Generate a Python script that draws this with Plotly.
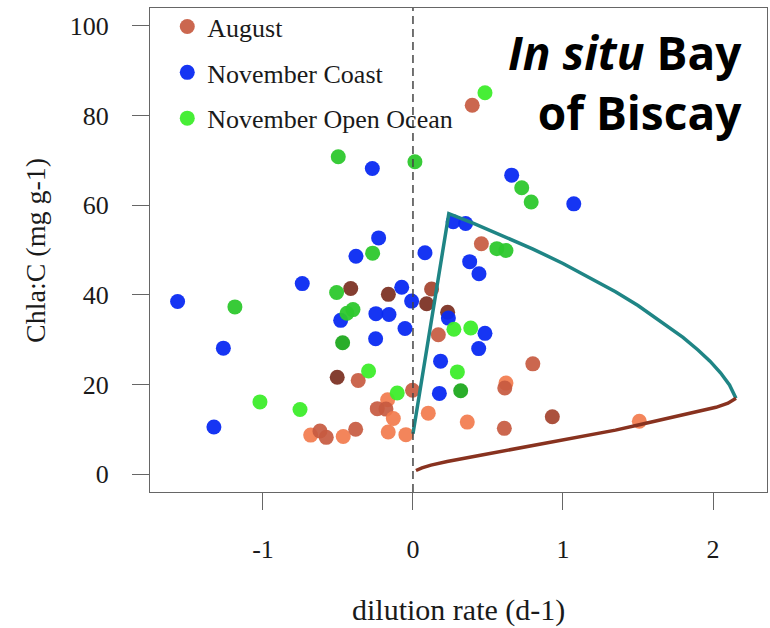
import plotly.graph_objects as go

# ---- observations: dilution rate (d-1) vs Chla:C (mg g-1) ----
aug_x = [0.395, 0.456, -0.415, -0.164, 0.124, 0.091, 0.231, 0.169, -0.505, -0.365,
         -0.003, -0.169, -0.238, -0.180, -0.131, 0.102, -0.682, -0.620, -0.578, -0.465,
         -0.382, -0.165, -0.047, 0.362, 0.609, 0.620, 0.612, 0.799, 0.929, 1.509]
aug_y = [82.3, 51.4, 41.4, 40.1, 41.3, 38.0, 36.1, 31.1, 21.6, 20.9,
         18.7, 16.6, 14.6, 14.5, 12.4, 13.6, 8.7, 9.6, 8.2, 8.4,
         10.0, 9.4, 8.8, 11.6, 10.2, 20.3, 19.2, 24.6, 12.8, 11.8]
aug_shade = ["S", "S", "D", "D", "M", "D", "D", "S", "D", "S",
             "S", "C", "S", "S", "C", "C", "C", "S", "S", "C",
             "S", "C", "C", "C", "S", "C", "S", "S", "M", "C"]

coast_x = [-0.271, 0.658, 1.072, 0.268, 0.351, -0.229, -0.380, 0.080, 0.378, 0.440,
           -0.738, -1.569, -0.075, -0.009, -0.482, -0.247, -0.160, -0.053, 0.236, -0.249,
           0.480, 0.438, -1.264, 0.184, 0.176, -1.327]
coast_y = [68.2, 66.7, 60.3, 56.3, 55.9, 52.7, 48.6, 49.4, 47.4, 44.7,
           42.5, 38.5, 41.7, 38.6, 34.3, 35.8, 35.6, 32.5, 34.8, 30.2,
           31.4, 28.0, 28.1, 25.2, 18.0, 10.5]

ocean_x = [0.480, -0.498, 0.013, 0.725, 0.788, 0.559, 0.620, -0.269, -0.509, -1.187,
           -0.440, -0.400, -0.469, 0.273, 0.385, -0.296, 0.296, -0.105, 0.318, -1.020,
           -0.753]
ocean_y = [85.1, 70.8, 69.7, 63.9, 60.7, 50.3, 49.9, 49.3, 40.5, 37.3,
           35.9, 36.7, 29.3, 32.3, 32.6, 23.0, 22.8, 18.1, 18.6, 16.1,
           14.4]
ocean_shade = ["B", "M", "M", "M", "M", "M", "M", "M", "M", "M",
               "M", "M", "D", "B", "B", "B", "B", "B", "D", "B",
               "B"]

# ---- model envelope (upper and lower branches) ----
upper_x = [0.0, 0.239, 0.40, 0.60, 0.80, 1.00, 1.20, 1.35, 1.50, 1.69, 1.80, 1.90,
           1.98, 2.05, 2.11, 2.153]
upper_y = [9.0, 58.1, 56.0, 53.2, 50.2, 47.0, 43.5, 40.7, 37.6, 33.2, 30.5, 27.7,
           25.2, 22.6, 19.9, 16.9]
lower_x = [0.02, 0.06, 0.12, 0.228, 0.45, 0.676, 0.90, 1.123, 1.35, 1.509, 1.70, 1.90,
           2.02, 2.10, 2.153]
lower_y = [0.8, 1.4, 2.0, 2.8, 4.2, 5.6, 7.0, 8.3, 9.8, 11.0, 12.5, 14.0,
           14.9, 15.8, 16.9]

x_ticks = [-1, 0, 1, 2]
x_labels = ["-1", "0", "1", "2"]
y_ticks = [0, 20, 40, 60, 80, 100]

aug_palette = {"D": "#7a2e20", "M": "#a4422c", "S": "#c75a40", "C": "#f27b4d"}
ocean_palette = {"B": "#3ded2b", "M": "#2dc82d", "D": "#1fa91f"}

SERIF = "Liberation Serif, Times New Roman, serif"

fig = go.Figure()

fig.add_trace(go.Scatter(
    x=aug_x, y=aug_y, mode="markers", name="August", legendgroup="a",
    marker=dict(size=15, color=[aug_palette[s] for s in aug_shade], opacity=0.92,
                line=dict(width=0)),
))
fig.add_trace(go.Scatter(
    x=coast_x, y=coast_y, mode="markers", name="November Coast", legendgroup="b",
    marker=dict(size=15, color="#0a2af2", opacity=0.95, line=dict(width=0)),
))
fig.add_trace(go.Scatter(
    x=ocean_x, y=ocean_y, mode="markers", name="November Open Ocean", legendgroup="c",
    marker=dict(size=15, color=[ocean_palette[s] for s in ocean_shade], opacity=0.95,
                line=dict(width=0)),
))

fig.add_trace(go.Scatter(
    x=upper_x, y=upper_y, mode="lines", showlegend=False, hoverinfo="skip",
    line=dict(color="#1f8585", width=3.5),
))
fig.add_trace(go.Scatter(
    x=lower_x, y=lower_y, mode="lines", showlegend=False, hoverinfo="skip",
    line=dict(color="#88321f", width=3.5),
))

# dashed reference at zero dilution
fig.add_shape(type="line", xref="x", yref="paper", x0=0, x1=0, y0=0, y1=1,
              line=dict(color="#444444", width=1.5, dash="8px,5px"))

axis_common = dict(
    showgrid=False, zeroline=False, showline=True, mirror=True,
    linecolor="#666666", linewidth=1.3,
    ticks="outside", ticklen=17, tickwidth=1.3, tickcolor="#666666",
    tickfont=dict(family=SERIF, size=26, color="#1a1a1a"),
)

fig.update_layout(
    width=770, height=628,
    margin=dict(l=150, r=3, t=8, b=136, autoexpand=False),
    paper_bgcolor="white", plot_bgcolor="white",
    xaxis=dict(range=[-1.753, 2.36], tickvals=x_ticks, ticktext=x_labels,
               ticklabelstandoff=17, **axis_common),
    yaxis=dict(range=[-4, 104], tickvals=y_ticks, ticklabelstandoff=18, **axis_common),
    showlegend=True,
    legend=dict(
        x=0.028, y=1.01, xanchor="left", yanchor="top",
        bgcolor="rgba(0,0,0,0)", borderwidth=0,
        font=dict(family=SERIF, size=26, color="#1a1a1a"),
        tracegroupgap=9, traceorder="grouped",
    ),
    annotations=[
        dict(text="dilution rate (d-1)", xref="paper", yref="paper",
             x=0.5, y=-0.2438, xanchor="center", yanchor="middle", showarrow=False,
             font=dict(family=SERIF, size=30, color="#1a1a1a")),
        dict(text="Chla:C (mg g-1)", xref="paper", yref="paper", textangle=-90,
             x=-0.1864, y=0.5, xanchor="center", yanchor="middle", showarrow=False,
             font=dict(family=SERIF, size=28, color="#1a1a1a")),
        dict(text="<b><i>In situ</i> Bay<br>of Biscay</b>", xref="paper", yref="paper",
             x=0.962, y=0.848, xanchor="right", yanchor="middle", align="right",
             showarrow=False,
             font=dict(family="Open Sans, Lato, sans-serif", size=46, color="black")),
    ],
)

fig.write_html("out.html")
